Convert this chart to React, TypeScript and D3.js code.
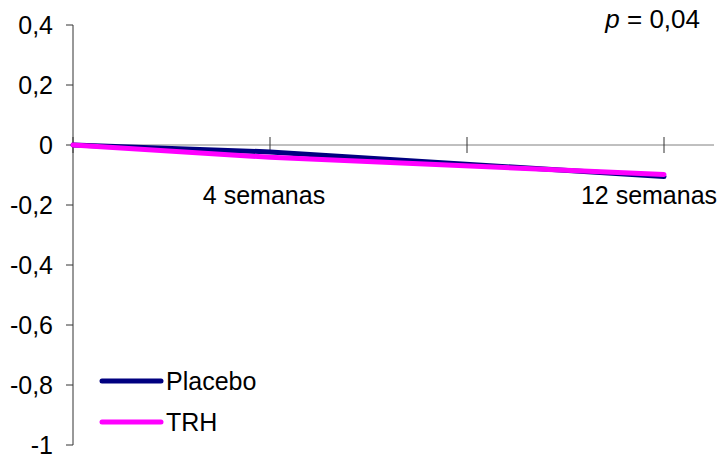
import { useEffect, useRef } from "react";
import * as d3 from "d3";

// data
const weeks = [0, 4, 12];
const placebo = [0, -0.023, -0.105];
const trh = [0, -0.041, -0.098];
const seriesNames = ["Placebo", "TRH"];
const seriesColors = ["#000080", "#ff00ff"];
const xTickWeeks = [0, 4, 8, 12];
const xLabels = [
  { week: 4, text: "4 semanas" },
  { week: 12, text: "12 semanas" },
];
const yTicks = [0.4, 0.2, 0, -0.2, -0.4, -0.6, -0.8, -1];
const yTickLabels = ["0,4", "0,2", "0", "-0,2", "-0,4", "-0,6", "-0,8", "-1"];
const pValue = "0,04";

const W = 724;
const H = 455;
const FONT = "'Liberation Sans', Arial, sans-serif";
const FS = 25;

const App = () => {
  const svgRef = useRef<SVGSVGElement>(null);

  useEffect(() => {
    const svg = d3.select(svgRef.current);
    svg.selectAll("*").remove();

    const x = d3.scaleLinear().domain([0, 12]).range([73, 664]);
    const y = d3.scaleLinear().domain([-1, 0.4]).range([445, 25]);
    const axisEnd = 714;

    // eixo Y
    svg
      .append("line")
      .attr("x1", x(0))
      .attr("x2", x(0))
      .attr("y1", y(0.4))
      .attr("y2", y(-1))
      .attr("stroke", "#333")
      .attr("stroke-width", 1);

    yTicks.forEach((t, i) => {
      svg
        .append("line")
        .attr("x1", x(0) - 7)
        .attr("x2", x(0))
        .attr("y1", y(t))
        .attr("y2", y(t))
        .attr("stroke", "#333");
      svg
        .append("text")
        .attr("x", 53)
        .attr("y", y(t))
        .attr("dy", "0.35em")
        .attr("text-anchor", "end")
        .attr("font-family", FONT)
        .attr("font-size", FS)
        .attr("fill", "#000")
        .text(yTickLabels[i]);
    });

    // eixo X (em y = 0)
    svg
      .append("line")
      .attr("x1", x(0))
      .attr("x2", axisEnd)
      .attr("y1", y(0))
      .attr("y2", y(0))
      .attr("stroke", "#808080")
      .attr("stroke-width", 1);

    xTickWeeks.forEach((w) => {
      svg
        .append("line")
        .attr("x1", x(w))
        .attr("x2", x(w))
        .attr("y1", y(0) - 8)
        .attr("y2", y(0) + 8)
        .attr("stroke", "#333");
    });

    xLabels.forEach((l) => {
      svg
        .append("text")
        .attr("x", l.week === 12 ? 649 : x(l.week) - 6)
        .attr("y", 204)
        .attr("text-anchor", "middle")
        .attr("font-family", FONT)
        .attr("font-size", FS)
        .attr("fill", "#000")
        .text(l.text);
    });

    // linhas
    const line = d3
      .line<number>()
      .x((_, i) => x(weeks[i]))
      .y((d) => y(d));

    [placebo, trh].forEach((s, i) => {
      svg
        .append("path")
        .attr("d", line(s))
        .attr("fill", "none")
        .attr("stroke", seriesColors[i])
        .attr("stroke-width", 5)
        .attr("stroke-linecap", "round")
        .attr("stroke-linejoin", "round");
    });

    // legenda
    seriesNames.forEach((name, i) => {
      const ly = 381 + i * 41;
      svg
        .append("line")
        .attr("x1", 102)
        .attr("x2", 161)
        .attr("y1", ly)
        .attr("y2", ly)
        .attr("stroke", seriesColors[i])
        .attr("stroke-width", 5)
        .attr("stroke-linecap", "round");
      svg
        .append("text")
        .attr("x", 166)
        .attr("y", ly)
        .attr("dy", "0.35em")
        .attr("font-family", FONT)
        .attr("font-size", FS)
        .attr("fill", "#000")
        .text(name);
    });

    // valor p
    const pt = svg
      .append("text")
      .attr("x", 700)
      .attr("y", 28)
      .attr("text-anchor", "end")
      .attr("font-family", FONT)
      .attr("font-size", 26)
      .attr("fill", "#000");
    pt.append("tspan").attr("font-style", "italic").text("p");
    pt.append("tspan").text(` = ${pValue}`);
  }, []);

  return (
    <svg
      ref={svgRef}
      width={W}
      height={H}
      style={{ position: "absolute", left: 0, top: 0, background: "#fff" }}
    />
  );
};

export default App;
